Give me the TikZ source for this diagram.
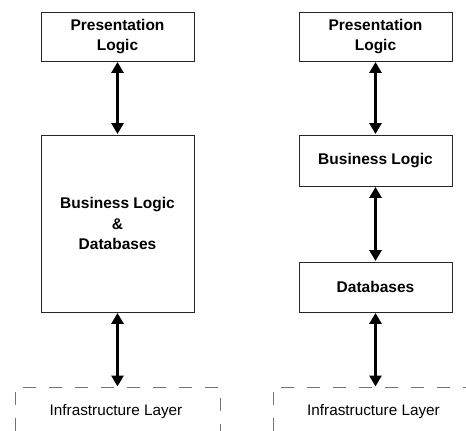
\documentclass[tikz,border=0pt]{standalone}
\usepackage{fontspec}
\setmainfont{Liberation Sans}
\usetikzlibrary{arrows.meta}
\begin{document}
\begin{tikzpicture}[x=1pt,y=-1pt,
  box/.style={draw=black!85,line width=0.9pt,inner sep=0pt,minimum width=153pt,align=center,
    font=\fontsize{15.5}{20.5}\selectfont\bfseries},
  dbl/.style={line width=3.5pt,{Triangle[width=12pt,length=11pt]}-{Triangle[width=12pt,length=11pt]},shorten <=0.5pt,shorten >=0.5pt},
  infra/.style={draw=black!55,line width=1pt,dash pattern=on 13pt off 13pt},
  infratext/.style={font=\fontsize{15.3}{18}\selectfont,inner sep=0pt}]
\useasboundingbox (0,0) rectangle (466,431);
% left column
\node[box,minimum height=49pt] (p1) at (117.5,36.5) {Presentation\\Logic};
\node[box,minimum height=177pt] (b1) at (117.5,223.5) {Business Logic\\\&\\Databases};
\coordinate (i1) at (117.5,387);
\draw[infra] (15,431) -- (15,387) -- (220,387) -- (220,431);
\node[infratext] (t1) at (116,412) {Infrastructure Layer};
\draw[dbl] (p1.south) -- (b1.north);
\draw[dbl] (b1.south) -- (i1);
% right column
\node[box,minimum height=49pt] (p2) at (375.5,36.5) {Presentation\\Logic};
\node[box,minimum height=51pt] (b2) at (375.5,160.5) {Business Logic};
\node[box,minimum height=50pt] (d2) at (375.5,287) {Databases};
\coordinate (i2) at (375.5,387);
\draw[infra] (273,431) -- (273,387) -- (466,387);
\node[infratext] (t2) at (373.5,412) {Infrastructure Layer};
\draw[dbl] (p2.south) -- (b2.north);
\draw[dbl] (b2.south) -- (d2.north);
\draw[dbl] (d2.south) -- (i2);
\end{tikzpicture}
\end{document}
